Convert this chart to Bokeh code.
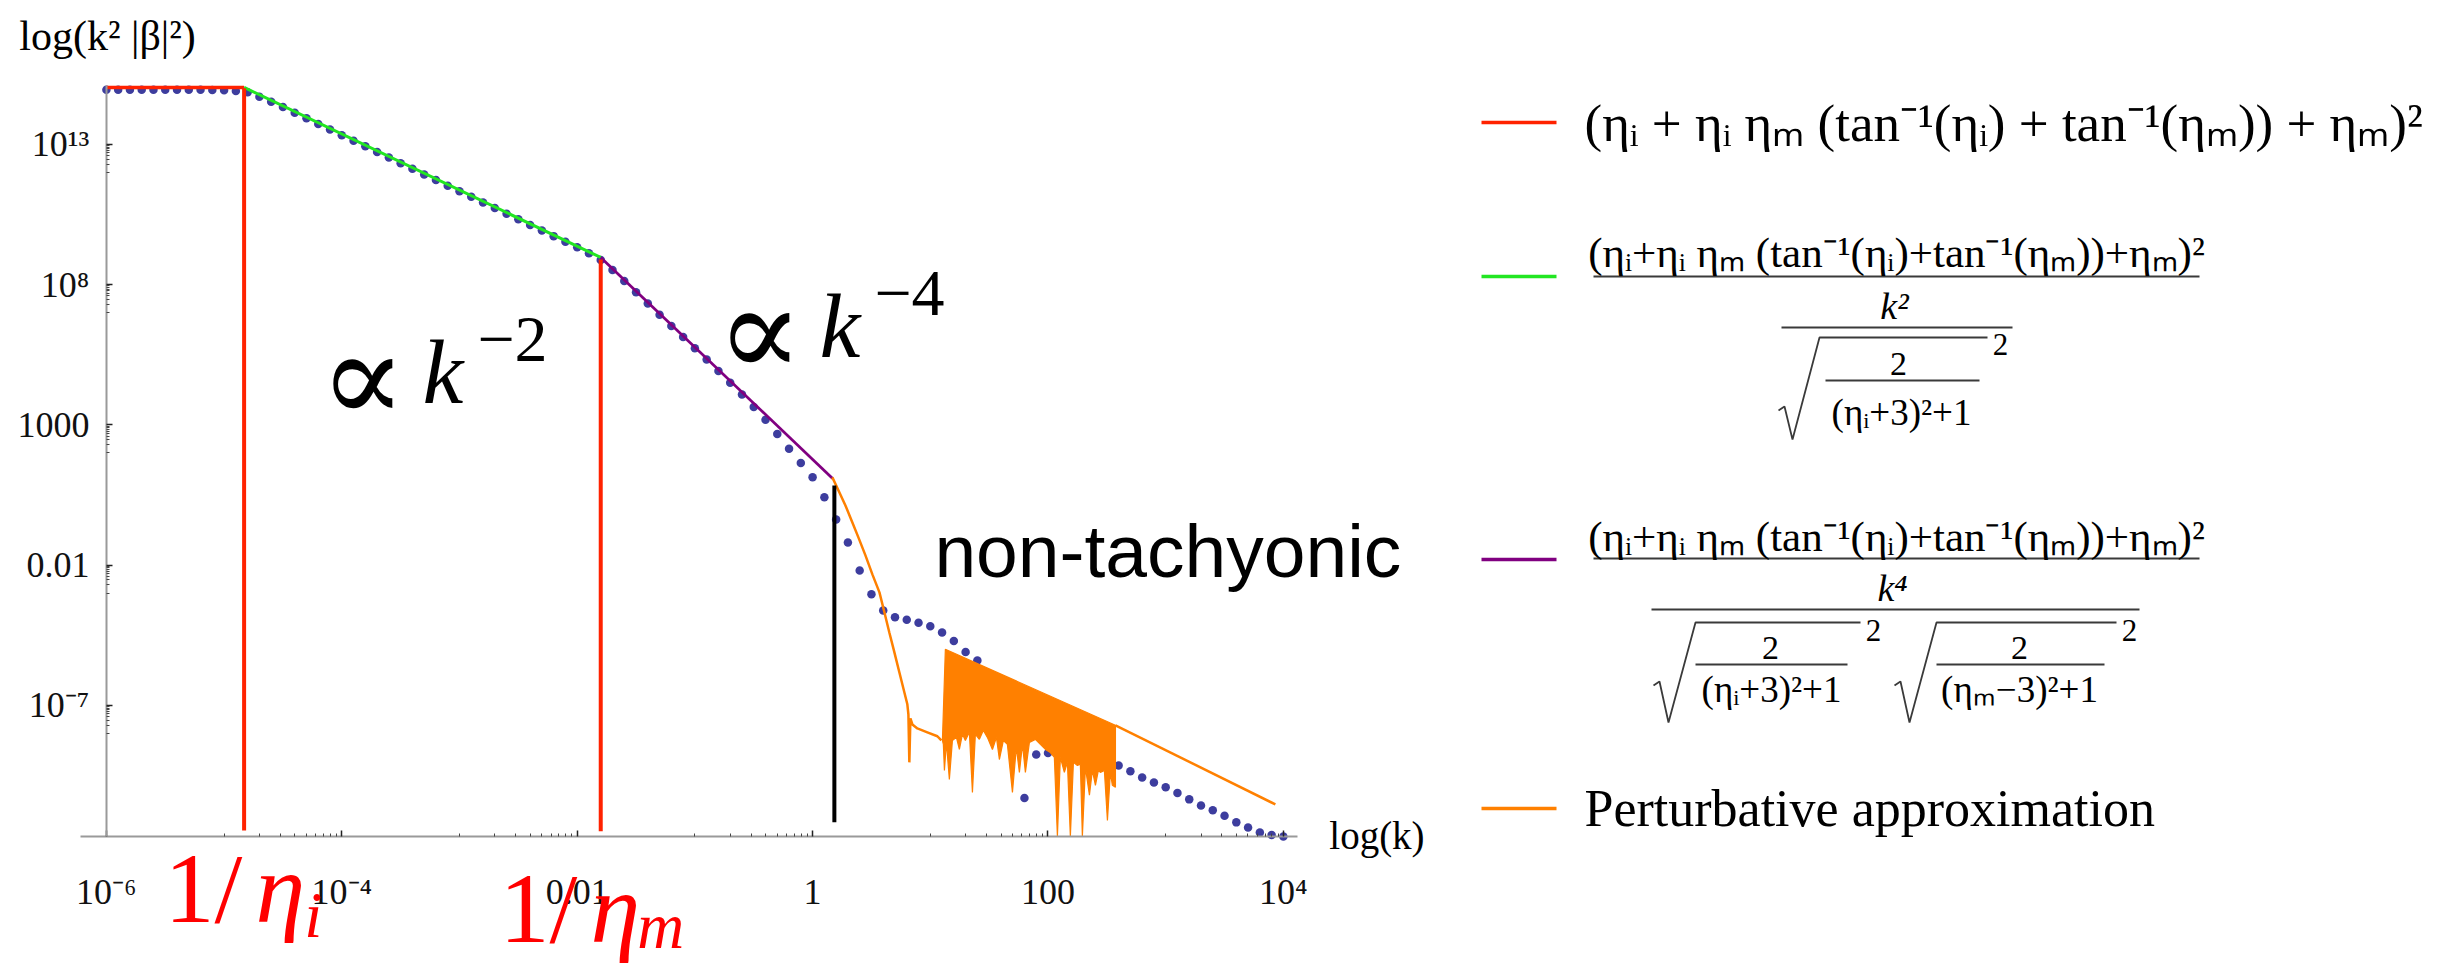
from bokeh.plotting import figure
from bokeh.models import (Range1d, FixedTicker, CustomJSTickFormatter, Label, LinearScale)
from bokeh.embed import file_html
from bokeh.resources import INLINE

# ---------------- data (log10 values) ----------------
dots_logk = [-6.0, -5.9, -5.8, -5.7, -5.6, -5.5, -5.4, -5.3, -5.2, -5.1,
             -5.0, -4.9, -4.8, -4.7, -4.6, -4.5, -4.4, -4.3, -4.2, -4.1,
             -4.0, -3.9, -3.8, -3.7, -3.6, -3.5, -3.4, -3.3, -3.2, -3.1,
             -3.0, -2.9, -2.8, -2.7, -2.6, -2.5, -2.4, -2.3, -2.2, -2.1,
             -2.0, -1.9, -1.8, -1.7, -1.6, -1.5, -1.4, -1.3, -1.2, -1.1,
             -1.0, -0.9, -0.8, -0.7, -0.6, -0.5, -0.4, -0.3, -0.2, -0.1,
             0.0, 0.1, 0.2, 0.3, 0.4, 0.5, 0.6, 0.7, 0.8, 0.9,
             1.0, 1.1, 1.2, 1.3, 1.4, 1.5, 1.6, 1.7, 1.8, 1.9,
             2.0, 2.1, 2.2, 2.3, 2.4, 2.5, 2.6, 2.7, 2.8, 2.9,
             3.0, 3.1, 3.2, 3.3, 3.4, 3.5, 3.6, 3.7, 3.8, 3.9, 4.0]
dots_logv = [14.95, 14.95, 14.95, 14.95, 14.95, 14.95, 14.95, 14.95, 14.95, 14.94,
             14.93, 14.90, 14.86, 14.70, 14.52, 14.33, 14.13, 13.93, 13.73, 13.53,
             13.33, 13.13, 12.93, 12.73, 12.53, 12.33, 12.13, 11.93, 11.73, 11.53,
             11.33, 11.13, 10.93, 10.73, 10.53, 10.33, 10.13, 9.93, 9.73, 9.53,
             9.33, 9.12, 8.88, 8.52, 8.13, 7.73, 7.33, 6.93, 6.53, 6.13,
             5.73, 5.33, 4.92, 4.50, 4.08, 3.64, 3.18, 2.68, 2.15, 1.64,
             1.13, 0.42, -0.37, -1.19, -2.19, -3.04, -3.62, -3.86, -3.95, -4.05,
             -4.18, -4.40, -4.70, -5.10, -5.40, -5.90, -6.55, -7.40, -10.30, -8.75,
             -8.70, -8.66, -8.64, -8.68, -8.80, -8.96, -9.14, -9.35, -9.57, -9.75,
             -9.92, -10.12, -10.35, -10.57, -10.74, -10.93, -11.17, -11.35, -11.53, -11.62, -11.67]

red_logk = [-6.0, -4.83]
red_logv = [15.03, 15.03]
green_logk = [-4.83, -1.80]
green_logv = [15.03, 8.97]
purple_logk = [-1.80, 0.17]
purple_logv = [8.97, 1.09]

orange_logk = [0.168, 0.228, 0.279, 0.338, 0.389, 0.449, 0.508, 0.568, 0.610, 0.652,
               0.695, 0.737, 0.780, 0.805, 0.814, 0.822, 0.831, 0.848, 0.890, 0.975,
               1.060, 1.094]
orange_logv = [1.13, 0.59, 0.13, -0.48, -1.01, -1.65, -2.33, -2.97, -3.68, -4.40,
               -5.11, -5.82, -6.54, -6.96, -7.32, -9.03, -7.46, -7.68, -7.82, -7.96,
               -8.10, -8.25]
band_top_logk = [1.103, 1.128, 2.573]
band_top_logv = [-8.25, -5.00, -7.71]
band_bottom_logk = [1.111, 1.120, 1.137, 1.162, 1.188, 1.222, 1.247, 1.273, 1.298, 1.332,
                    1.358, 1.383, 1.417, 1.451, 1.485, 1.528, 1.562, 1.587, 1.621, 1.655,
                    1.698, 1.731, 1.757, 1.783, 1.808, 1.842, 1.893, 1.935, 1.978, 2.020,
                    2.054, 2.080, 2.105, 2.139, 2.165, 2.190, 2.216, 2.250, 2.275, 2.292,
                    2.318, 2.352, 2.377, 2.403, 2.428, 2.445, 2.479, 2.505, 2.530, 2.547, 2.573]
band_bottom_logv = [-8.39, -9.32, -8.32, -9.64, -8.25, -8.14, -8.57, -8.03, -8.25, -7.96,
                    -10.10, -8.03, -8.21, -7.89, -8.14, -8.57, -8.14, -8.93, -8.25, -8.39,
                    -10.10, -8.50, -9.39, -8.39, -9.39, -8.32, -8.21, -8.39, -8.57, -8.68,
                    -8.85, -11.67, -8.85, -9.39, -9.03, -11.67, -9.03, -9.14, -9.10, -11.67,
                    -9.21, -10.20, -9.32, -9.85, -9.32, -9.39, -9.32, -11.10, -9.39, -9.85, -9.92]
tail_logk = [2.573, 3.932]
tail_logv = [-7.71, -10.53]

# vertical markers: log k, log v bottom, log v top
vlines_logk = [-4.83, -1.80, 0.185]
vlines_bottom = [-11.46, -11.49, -11.17]
vlines_top = [15.0, 8.9, 0.84]
vlines_color = ["#ff2200", "#ff2200", "#000000"]

x_tick_vals = [1e-6, 1e-4, 1e-2, 1.0, 1e2, 1e4]
x_tick_labels = ["10⁻⁶", "10⁻⁴", "0.01", "1", "100", "10⁴"]
y_tick_vals = [1e13, 1e8, 1e3, 1e-2, 1e-7]
y_tick_labels = ["10¹³", "10⁸", "1000", "0.01", "10⁻⁷"]

C_DOT = "#3d3d9e"
C_RED = "#ff2200"
C_GREEN = "#22e622"
C_PURPLE = "#800080"
C_ORANGE = "#ff8000"

def p10(a):
    return [10.0 ** v for v in a]

# plot region: axes span log k in [-6.22, 4.12], log v in [-11.67, 15.1];
# the canvas extends further so that side texts and the legend fit.
X_LO, X_HI = -6.22, 4.12
Y_LO, Y_HI = -11.67, 15.1
W, H = 2427, 963
PXD_X = 117.7   # pixels per decade (x)
PXD_Y = 28.05   # pixels per decade (y)
AX_LEFT, AX_TOP = 80, 85   # position of plot box inside canvas

x_start = X_LO - AX_LEFT / PXD_X
x_end = x_start + W / PXD_X
y_end = Y_HI + AX_TOP / PXD_Y
y_start = y_end - H / PXD_Y

p = figure(x_axis_type="log", y_axis_type="log", title=None,
           x_range=Range1d(10 ** x_start, 10 ** x_end),
           y_range=Range1d(10 ** y_start, 10 ** y_end),
           frame_width=W, frame_height=H, min_border=0,
           output_backend="svg", toolbar_location=None,
           background_fill_color="white", border_fill_color="white")
p.outline_line_color = None
p.grid.visible = False

# legend coordinate system: page pixels
p.extra_x_ranges = {"lx": Range1d(8, 8 + W)}
p.extra_y_ranges = {"ly": Range1d(8 + H, 8)}
p.extra_x_scales = {"lx": LinearScale()}
p.extra_y_scales = {"ly": LinearScale()}

x_minor = [m * 10.0 ** e for e in (-5, -3, -1, 1, 3) for m in range(1, 10)]
y_minor = [m * 10.0 ** (e - 1) for e in (13, 8, 3, -2, -7) for m in range(1, 10)]
p.xaxis.ticker = FixedTicker(ticks=x_tick_vals, minor_ticks=x_minor)
p.yaxis.ticker = FixedTicker(ticks=y_tick_vals, minor_ticks=y_minor)
fmt_code = """
const i = vals.findIndex(v => Math.abs(Math.log10(v) - Math.log10(tick)) < 1e-6);
return i >= 0 ? labs[i] : "";
"""
p.xaxis.formatter = CustomJSTickFormatter(args=dict(vals=x_tick_vals, labs=x_tick_labels), code=fmt_code)
p.yaxis.formatter = CustomJSTickFormatter(args=dict(vals=y_tick_vals, labs=y_tick_labels), code=fmt_code)
p.yaxis.fixed_location = 1e-6
p.xaxis.fixed_location = 10 ** Y_LO
p.xaxis.bounds = (10 ** X_LO, 10 ** X_HI)
p.yaxis.bounds = (10 ** Y_LO, 10 ** Y_HI)
for ax in (p.xaxis, p.yaxis):
    ax.axis_line_color = "#9a9a9a"
    ax.axis_line_width = 2
    ax.major_tick_in = 6
    ax.major_tick_out = 0
    ax.minor_tick_in = 3
    ax.minor_tick_out = 0
    ax.major_tick_line_color = "#222222"
    ax.major_tick_line_width = 1.5
    ax.minor_tick_line_color = "#444444"
    ax.minor_tick_line_width = 1
    ax.major_label_text_font = "Liberation Serif"
    ax.major_label_text_font_size = "36px"
    ax.major_label_text_color = "#111111"
p.xaxis.major_label_standoff = 36
p.yaxis.major_label_standoff = 17

p.scatter(p10(dots_logk), p10(dots_logv), size=8.5, color=C_DOT, line_color=None)
p.line(p10(red_logk), p10(red_logv), color=C_RED, line_width=3.5)
p.line(p10(green_logk), p10(green_logv), color=C_GREEN, line_width=3)
p.line(p10(purple_logk), p10(purple_logv), color=C_PURPLE, line_width=2.8)
p.line(p10(orange_logk), p10(orange_logv), color=C_ORANGE, line_width=2.5)
p.patch(p10(band_top_logk + band_bottom_logk[::-1]), p10(band_top_logv + band_bottom_logv[::-1]),
        fill_color=C_ORANGE, line_color=C_ORANGE, line_width=1.2)
p.line(p10(tail_logk), p10(tail_logv), color=C_ORANGE, line_width=2.5)
p.segment(x0=p10(vlines_logk), y0=p10(vlines_bottom), x1=p10(vlines_logk), y1=p10(vlines_top),
          color=vlines_color, line_width=4)

def lab(x, y, text, size, font="Liberation Serif", style="normal", align="left",
        color="black", legend=False):
    kw = dict(x_range_name="lx", y_range_name="ly") if legend else {}
    p.add_layout(Label(x=x, y=y, text=text, text_font=font, text_font_size=f"{size}px",
                       text_font_style=style, text_align=align, text_baseline="middle",
                       text_color=color, **kw))

# texts inside / around the plot (placed in data coordinates, vertically centred)
lab(10 ** -6.74, 10 ** 16.85, "log(k² |β|²)", 42)
lab(10 ** 4.39, 10 ** -11.63, "log(k)", 39)
lab(10 ** 1.035, 10 ** -1.51, "non-tachyonic", 75, font="Liberation Sans")
lab(10 ** -4.190, 10 ** 4.676, "∝", 128, font="DejaVu Serif")
lab(10 ** -3.315, 10 ** 4.889, "k", 92, style="italic")
lab(10 ** -2.848, 10 ** 6.030, "−2", 66)
lab(10 ** -0.817, 10 ** 6.316, "∝", 128, font="DejaVu Serif")
lab(10 ** 0.058, 10 ** 6.529, "k", 92, style="italic")
lab(10 ** 0.525, 10 ** 7.670, "−4", 66)
lab(10 ** -5.507, 10 ** -13.52, "1/", 100, color="#ff0000")
lab(10 ** -4.734, 10 ** -13.52, "η", 100, style="italic", color="#ff0000")
lab(10 ** -4.318, 10 ** -14.49, "i", 65, style="italic", color="#ff0000")
lab(10 ** -2.661, 10 ** -14.24, "1/", 100, color="#ff0000")
lab(10 ** -1.888, 10 ** -14.24, "η", 100, style="italic", color="#ff0000")
lab(10 ** -1.489, 10 ** -14.88, "m", 65, style="italic", color="#ff0000")

# ---------------- legend (page-pixel coordinates) ----------------
leg_y = [130, 284, 567, 816]
leg_colors = [C_RED, C_GREEN, C_PURPLE, C_ORANGE]
p.segment(x0=[1489] * 4, y0=leg_y, x1=[1564] * 4, y1=leg_y, color=leg_colors, line_width=3.5,
          x_range_name="lx", y_range_name="ly")

num = "(ηᵢ+ηᵢ ηₘ (tan⁻¹(ηᵢ)+tan⁻¹(ηₘ))+ηₘ)²"
lab(1592, 130, "(ηᵢ + ηᵢ ηₘ (tan⁻¹(ηᵢ) + tan⁻¹(ηₘ)) + ηₘ)²", 53, legend=True)

# green entry
lab(1904, 260, num, 43, align="center", legend=True)
lab(1902, 313, "k²", 38, style="italic", align="center", legend=True)
lab(1906, 371, "2", 34, align="center", legend=True)
lab(1909, 420, "(ηᵢ+3)²+1", 37, align="center", legend=True)
lab(2008, 352, "2", 31, align="center", legend=True)
bars_x0 = [1601, 1789, 1833, 1601, 1659, 1703, 1944]
bars_x1 = [2207, 2020, 1987, 2207, 2147, 1855, 2112]
bars_y = [284, 335, 388, 566, 617, 672, 672]
p.segment(x0=bars_x0, y0=bars_y, x1=bars_x1, y1=bars_y, color="#3a3a3a", line_width=2.2,
          x_range_name="lx", y_range_name="ly")
rad_xs = [[1786, 1792, 1800, 1827, 1995], [1661, 1667, 1676, 1703, 1868], [1902, 1908, 1917, 1944, 2124]]
rad_ys = [[418, 414, 447, 345, 345], [693, 689, 730, 630, 630], [693, 689, 730, 630, 630]]
p.multi_line(rad_xs, rad_ys, color="#3a3a3a", line_width=1.8, x_range_name="lx", y_range_name="ly")

# purple entry
lab(1904, 544, num, 43, align="center", legend=True)
lab(1900, 595, "k⁴", 38, style="italic", align="center", legend=True)
lab(1778, 655, "2", 34, align="center", legend=True)
lab(1779, 697, "(ηᵢ+3)²+1", 37, align="center", legend=True)
lab(1881, 638, "2", 31, align="center", legend=True)
lab(2027, 655, "2", 34, align="center", legend=True)
lab(2027, 697, "(ηₘ−3)²+1", 37, align="center", legend=True)
lab(2137, 638, "2", 31, align="center", legend=True)

# orange entry
lab(1592, 816, "Perturbative approximation", 52, legend=True)

open("out.html", "w").write(file_html(p, INLINE))
